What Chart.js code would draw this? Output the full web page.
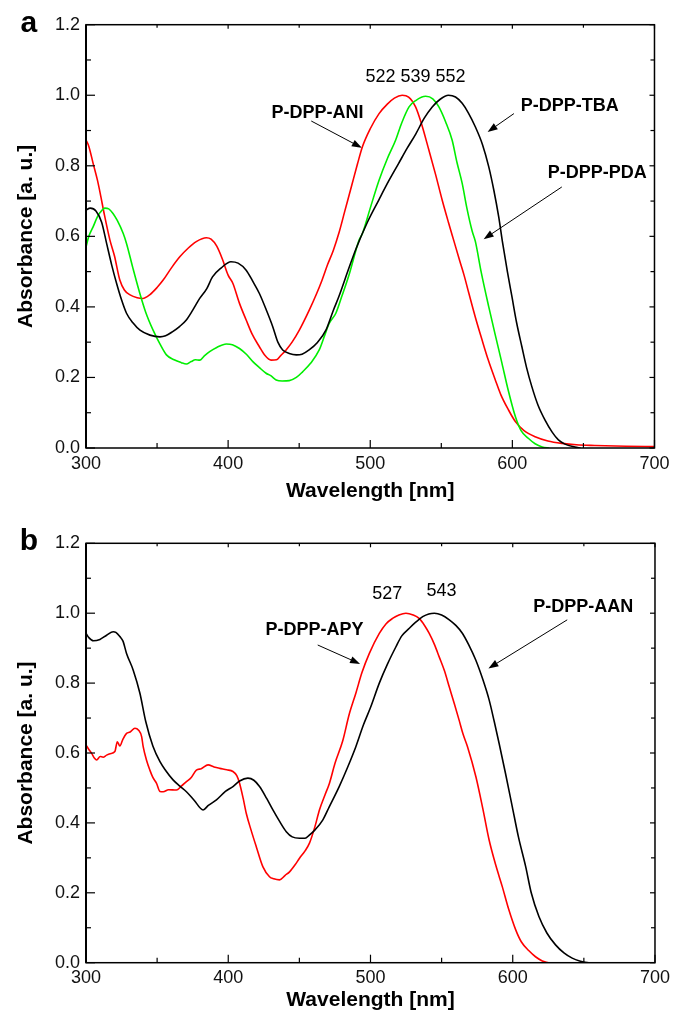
<!DOCTYPE html>
<html><head><meta charset="utf-8">
<script src="https://cdn.jsdelivr.net/npm/chart.js@4/dist/chart.umd.min.js"></script>
<style>
html,body{margin:0;padding:0;background:#fff;}
#wrap{position:relative;width:675px;height:1019px;overflow:hidden;}
#c1{position:absolute;left:0;top:0;}
#c2{position:absolute;left:0;top:505px;}
</style></head><body>
<div id="wrap">
<canvas id="c1" width="675" height="505"></canvas>
<canvas id="c2" width="675" height="514"></canvas>
</div>
<script>
// ---------- tick labels ----------
const xTickLabels = ['300','400','500','600','700'];
const yTickLabels = ['0.0','0.2','0.4','0.6','0.8','1.0','1.2'];

// ---------- panel a ----------
const tbaX = [300,303,307,311,314.5,318,321.5,325,328.5,333,338,345,352,356,361,366,370.6,375,380,385,389,395,402,407,412.7,417,422,427,431.4,435,438.4,443,448,452,457,463,468.8,474,478,485,490,498,506,513,520,526,532,538,543.6,549,555,560,564.7,569,574,579,583.4,587,590.4,593,596.5,599.7,603,606.7,610,613.7,618,623,628,632.4,637,644,648];
const tbaY = [0.675,0.68,0.672,0.64,0.58,0.52,0.467,0.42,0.382,0.355,0.334,0.32,0.315,0.318,0.33,0.345,0.363,0.39,0.424,0.452,0.485,0.51,0.528,0.524,0.504,0.475,0.438,0.39,0.344,0.30,0.278,0.268,0.264,0.266,0.278,0.30,0.334,0.39,0.43,0.51,0.565,0.64,0.703,0.757,0.807,0.85,0.89,0.935,0.967,0.988,1.0,0.995,0.977,0.95,0.91,0.86,0.797,0.73,0.655,0.585,0.50,0.429,0.355,0.287,0.228,0.174,0.122,0.079,0.045,0.023,0.011,0.003,0.0];

const aniX = [300,302,305,308,310,313,316.8,320,323.8,327,331,336,340,345,350,354.3,360,366,372,377.6,384.7,388,392,396,400,403.3,408,412.7,417,422,426,430.2,434,437,440.8,445,450.1,457,462,466,470,474,478,482,487,491,494.5,500,506.2,512,517,522.5,527,531.9,536,541.3,546,550.6,555,559,563,566,569.3,574,578.7,583,588,592,597,602.1,608,616,625,635,645,658,680,700];
const aniY = [0.873,0.855,0.807,0.76,0.722,0.66,0.59,0.545,0.476,0.448,0.434,0.426,0.424,0.435,0.455,0.476,0.51,0.542,0.567,0.585,0.596,0.592,0.572,0.535,0.49,0.467,0.41,0.363,0.322,0.287,0.262,0.249,0.25,0.262,0.278,0.30,0.334,0.39,0.435,0.475,0.52,0.56,0.61,0.67,0.745,0.805,0.854,0.905,0.948,0.975,0.992,1.0,0.995,0.967,0.92,0.844,0.775,0.703,0.64,0.585,0.53,0.49,0.44,0.37,0.306,0.25,0.193,0.15,0.11,0.075,0.05,0.032,0.02,0.013,0.009,0.007,0.005,0.004];

const pdaX = [300,302,305,308,310,313.3,316,319,322,326.2,328.5,333,337.9,342,347.2,352,356.6,362,367,370.6,374,377,380,383,387,392,398.7,403,408,413,417.4,422,426.7,430,433.8,438,443,448,452.4,458,464.1,468,471.1,475.8,480,485,492.2,494.5,500,506.2,512,517.9,522,527.3,532,539,544,548.3,553,557.6,561,564.7,568,571.7,574,578,583.4,588,592.7,597,602.1,606,611.4,616,621,626];
const pdaY = [0.57,0.6,0.627,0.655,0.668,0.68,0.678,0.665,0.645,0.608,0.58,0.51,0.438,0.385,0.334,0.295,0.264,0.25,0.242,0.238,0.245,0.25,0.249,0.26,0.273,0.285,0.295,0.293,0.282,0.265,0.245,0.228,0.212,0.205,0.193,0.19,0.191,0.2,0.216,0.24,0.278,0.32,0.353,0.382,0.43,0.49,0.59,0.608,0.68,0.759,0.82,0.873,0.92,0.967,0.985,0.997,0.99,0.967,0.925,0.873,0.81,0.75,0.68,0.615,0.585,0.50,0.40,0.32,0.24,0.165,0.089,0.05,0.027,0.012,0.003,0.0];

// ---------- panel b ----------
const aanX = [300,302,305.2,309.8,314.5,319.1,321,323.8,326,328.5,333.2,337.9,342,347,352,356,361.2,366,370.6,376,382.3,386,391.7,398,403.3,408,413.8,418,422,427,431.4,436,440.8,445,450.1,454,457,461,466.4,471,478,484,489.7,495,500,506.2,512,517.9,522,527.3,532,536.7,541,544.9,550,555.4,560,564.7,569,574,579,583.4,587,590.4,595,599.7,604,609.1,613,618.4,624,630.1,636,641.8,647,653.5,700];
const aanY = [0.942,0.93,0.921,0.925,0.937,0.947,0.945,0.933,0.92,0.885,0.837,0.771,0.69,0.62,0.575,0.55,0.523,0.505,0.489,0.465,0.437,0.45,0.466,0.49,0.504,0.52,0.528,0.522,0.504,0.47,0.437,0.405,0.375,0.36,0.356,0.356,0.365,0.38,0.408,0.446,0.504,0.56,0.618,0.68,0.73,0.80,0.855,0.904,0.935,0.957,0.975,0.99,0.998,1.0,0.995,0.981,0.965,0.942,0.91,0.866,0.81,0.752,0.69,0.628,0.54,0.446,0.36,0.275,0.2,0.132,0.085,0.051,0.028,0.013,0.005,0.0,0.0];

const apyX = [300,302,304,306,307.5,310,312,314.5,317,320.3,322,323.8,326,328.5,331,334.4,337,339.1,340.2,342.5,344.9,347,349.6,352,354.3,358,363.6,367,370.6,374,377.6,381,385.8,390,394,399,403.3,406,408,410.5,412.7,416,419.7,424.3,429,432,436,440,443.1,447,450.1,454,457.1,461,464.1,468,471.1,475,480.5,485,489.7,494,499.2,506.2,511,515.5,520,524.9,530,534.2,538,541.3,545,548.3,552,555.3,559,562.3,565,568.2,574.1,579,583.4,588,592.7,597,602.1,606,611.4,616,620.8,625];
const apyY = [0.623,0.61,0.599,0.585,0.58,0.59,0.588,0.594,0.598,0.604,0.632,0.62,0.64,0.656,0.66,0.671,0.665,0.647,0.618,0.58,0.551,0.53,0.513,0.49,0.489,0.495,0.494,0.505,0.518,0.53,0.551,0.555,0.566,0.56,0.556,0.552,0.547,0.535,0.513,0.47,0.427,0.38,0.332,0.275,0.246,0.24,0.237,0.25,0.26,0.28,0.299,0.32,0.342,0.39,0.437,0.48,0.513,0.57,0.635,0.71,0.771,0.83,0.885,0.942,0.97,0.985,0.995,1.0,0.995,0.985,0.965,0.942,0.91,0.875,0.835,0.79,0.74,0.694,0.655,0.618,0.532,0.44,0.351,0.28,0.217,0.155,0.094,0.06,0.034,0.017,0.005,0.0];

const FONT = "'Liberation Sans', Arial, Helvetica, sans-serif";
const pts = (xs, ys) => xs.map((x, i) => ({x, y: ys[i]}));

const framePlugin = {
  id: 'frame',
  afterDatasetsDraw(chart, args, opts) {
    const {ctx, chartArea: a, scales: {x, y}} = chart;
    const line = (x1, y1, x2, y2) => { ctx.beginPath(); ctx.moveTo(x1, y1); ctx.lineTo(x2, y2); ctx.stroke(); };
    ctx.save();
    ctx.strokeStyle = '#000';
    ctx.lineWidth = 1.2;
    x.ticks.forEach(t => {
      const px = x.getPixelForValue(t.value);
      const major = xTickLabels.includes(String(t.value));
      line(px, a.bottom, px, a.bottom - (major ? 8 : 5));
      line(px, a.top, px, a.top + (major ? 4 : 3));
    });
    y.ticks.forEach(t => {
      const py = y.getPixelForValue(t.value);
      const major = yTickLabels.includes(t.value.toFixed(1));
      line(a.left, py, a.left + (major ? 9 : 5), py);
      line(a.right, py, a.right - (major ? 5 : 4), py);
    });
    ctx.lineWidth = 1.5;
    ctx.strokeRect(a.left, a.top, a.right - a.left, a.bottom - a.top);
    ctx.lineWidth = 2;
    line(a.left, a.top, a.left, a.bottom);

    // annotations
    ctx.fillStyle = '#000';
    ctx.textAlign = 'center';
    ctx.textBaseline = 'middle';
    (opts.texts || []).forEach(t => {
      ctx.font = (t.bold ? 'bold ' : '') + t.size + 'px ' + FONT;
      ctx.fillText(t.text, x.getPixelForValue(t.x), y.getPixelForValue(t.y));
    });
    ctx.lineWidth = 1;
    (opts.arrows || []).forEach(ar => {
      const x1 = x.getPixelForValue(ar.x1), y1 = y.getPixelForValue(ar.y1);
      const x2 = x.getPixelForValue(ar.x2), y2 = y.getPixelForValue(ar.y2);
      const ang = Math.atan2(y2 - y1, x2 - x1);
      const hl = 10, hw = 3.6;
      const bx = x2 - hl * Math.cos(ang), by = y2 - hl * Math.sin(ang);
      line(x1, y1, bx, by);
      ctx.beginPath();
      ctx.moveTo(x2, y2);
      ctx.lineTo(bx + hw * Math.sin(ang), by - hw * Math.cos(ang));
      ctx.lineTo(bx - hw * Math.sin(ang), by + hw * Math.cos(ang));
      ctx.closePath();
      ctx.fill();
    });
    // panel letter
    ctx.font = 'bold 30px ' + FONT;
    ctx.textAlign = 'left';
    ctx.textBaseline = 'alphabetic';
    ctx.fillText(opts.letter, opts.letterX, opts.letterY);
    ctx.restore();
  }
};

function makeChart(id, datasets, cfg) {
  return new Chart(document.getElementById(id), {
    type: 'line',
    data: { datasets },
    options: {
      responsive: false,
      animation: false,
      devicePixelRatio: 1,
      layout: { padding: { left: 0, right: 19, top: cfg.top, bottom: 0 } },
      elements: { point: { radius: 0 }, line: { cubicInterpolationMode: 'monotone', borderWidth: 1.6 } },
      plugins: {
        legend: { display: false },
        tooltip: { enabled: false },
        frame: cfg.frame
      },
      scales: {
        x: {
          type: 'linear', min: 300, max: 700,
          grid: { display: false, drawTicks: false },
          border: { display: false },
          ticks: {
            stepSize: 50, autoSkip: false, maxRotation: 0, padding: cfg.xTickPad,
            color: '#111', font: { family: FONT, size: 18 },
            callback: v => xTickLabels.includes(String(v)) ? String(v) : ''
          },
          title: { display: true, text: 'Wavelength [nm]', color: '#000',
            font: { family: FONT, size: 21, weight: 'bold' }, padding: { top: 0, bottom: cfg.xTitlePad } },
          afterFit: s => { s.height = cfg.xH; }
        },
        y: {
          type: 'linear', min: 0, max: 1.2,
          grid: { display: false, drawTicks: false },
          border: { display: false },
          ticks: {
            stepSize: 0.1, autoSkip: false, padding: 6,
            color: '#111', font: { family: FONT, size: 18 },
            callback: v => yTickLabels.includes(Number(v).toFixed(1)) ? Number(v).toFixed(1) : ''
          },
          title: { display: true, text: 'Absorbance [a. u.]', color: '#000',
            font: { family: FONT, size: 21, weight: 'bold' }, padding: { top: 14, bottom: 0 } },
          afterFit: s => { s.width = 86; }
        }
      }
    },
    plugins: [framePlugin]
  });
}

makeChart('c1', [
  { label: 'P-DPP-TBA', data: pts(tbaX, tbaY), borderColor: '#000000' },
  { label: 'P-DPP-PDA', data: pts(pdaX, pdaY), borderColor: '#00ee00' },
  { label: 'P-DPP-ANI', data: pts(aniX, aniY), borderColor: '#ff0000' }
], {
  top: 24.7, xH: 57, xTickPad: 5.5, xTitlePad: 1,
  frame: {
    letter: 'a', letterX: 20.5, letterY: 31.7,
    texts: [
      { text: '522 539 552', x: 531.8, y: 1.052, size: 18, bold: false },
      { text: 'P-DPP-ANI', x: 462.9, y: 0.949, size: 18, bold: true },
      { text: 'P-DPP-TBA', x: 640.3, y: 0.969, size: 18, bold: true },
      { text: 'P-DPP-PDA', x: 659.8, y: 0.780, size: 18, bold: true }
    ],
    arrows: [
      { x1: 458.5, y1: 0.927, x2: 494.1, y2: 0.851 },
      { x1: 601.1, y1: 0.948, x2: 582.6, y2: 0.896 },
      { x1: 634.8, y1: 0.740, x2: 579.8, y2: 0.592 }
    ]
  }
});

makeChart('c2', [
  { label: 'P-DPP-AAN', data: pts(aanX, aanY), borderColor: '#000000' },
  { label: 'P-DPP-APY', data: pts(apyX, apyY), borderColor: '#ff0000' }
], {
  top: 38.3, xH: 56.3, xTickPad: 5, xTitlePad: 6.5,
  frame: {
    letter: 'b', letterX: 19.7, letterY: 45,
    texts: [
      { text: '527', x: 511.8, y: 1.055, size: 18, bold: false },
      { text: '543', x: 550.0, y: 1.064, size: 18, bold: false },
      { text: 'P-DPP-APY', x: 460.6, y: 0.952, size: 18, bold: true },
      { text: 'P-DPP-AAN', x: 649.6, y: 1.017, size: 18, bold: true }
    ],
    arrows: [
      { x1: 462.9, y1: 0.909, x2: 492.7, y2: 0.855 },
      { x1: 638.3, y1: 0.981, x2: 582.9, y2: 0.842 }
    ]
  }
});
</script>
</body></html>
